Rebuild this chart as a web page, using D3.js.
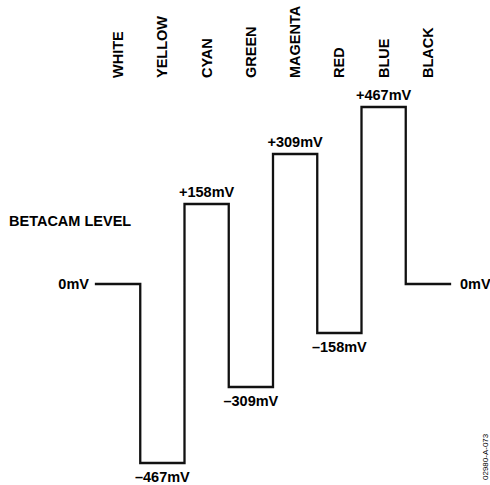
<!DOCTYPE html>
<html>
<head>
<meta charset="utf-8">
<script src="https://cdn.jsdelivr.net/npm/d3@7"></script>
<style>
  body { margin: 0; background: #fff; }
  text { font-family: "Liberation Sans", Arial, sans-serif; fill: #000; }
</style>
</head>
<body>
<div id="chart"></div>
<script>
// colour bars, left to right, and their Betacam level in mV
const colors = ["WHITE", "YELLOW", "CYAN", "GREEN", "MAGENTA", "RED", "BLUE", "BLACK"];
const levels = [0, -467, 158, -309, 309, -158, 467, 0];
const levelLabels = ["0mV", "\u2013467mV", "+158mV", "\u2013309mV", "+309mV", "\u2013158mV", "+467mV", "0mV"];

const width = 490;
const height = 485;
const fs = "14.5px";

const svg = d3.select("#chart")
    .append("svg")
    .attr("width", width)
    .attr("height", height);

const x = d3.scaleBand()
    .domain(colors)
    .range([96, 450])
    .padding(0);

// schematic (not proportional) vertical axis, as in the drawing
const levelStops = [-467, -309, -158, 0, 158, 309, 467];
const y = d3.scaleLinear()
    .domain(levelStops)
    .range([463, 387, 333, 284, 204, 154, 107]);

const data = colors.map((c, i) => ({ color: c, level: levels[i], label: levelLabels[i] }));

// colour names, rotated
svg.selectAll(".name")
    .data(data)
    .join("text")
    .attr("transform", d => `translate(${x(d.color) + x.bandwidth() / 2 + 5},78) rotate(-90)`)
    .attr("text-anchor", "start")
    .attr("font-size", fs)
    .attr("font-weight", "bold")
    .text(d => d.color);

// waveform as a step line
const pts = [];
data.forEach(d => {
    pts.push([x(d.color), y(d.level)]);
    pts.push([x(d.color) + x.bandwidth(), y(d.level)]);
});

svg.append("path")
    .attr("d", d3.line()(pts))
    .attr("fill", "none")
    .attr("stroke", "#111")
    .attr("stroke-width", 2.3)
    .attr("stroke-linejoin", "miter")
    .attr("stroke-linecap", "square");

// level labels on the bars
svg.selectAll(".lvl")
    .data(data.slice(1, -1))
    .join("text")
    .attr("x", d => x(d.color) + x.bandwidth() / 2)
    .attr("y", d => d.level > 0 ? y(d.level) - 7 : y(d.level) + 19)
    .attr("text-anchor", "middle")
    .attr("font-size", fs)
    .attr("font-weight", "bold")
    .text(d => d.label);

// 0mV at both ends
svg.append("text")
    .attr("x", x(colors[0]) - 7)
    .attr("y", y(levels[0]) + 5)
    .attr("text-anchor", "end")
    .attr("font-size", fs)
    .attr("font-weight", "bold")
    .text(levelLabels[0]);

svg.append("text")
    .attr("x", x(colors[colors.length - 1]) + x.bandwidth() + 10)
    .attr("y", y(levels[levels.length - 1]) + 5)
    .attr("text-anchor", "start")
    .attr("font-size", fs)
    .attr("font-weight", "bold")
    .text(levelLabels[levelLabels.length - 1]);

svg.append("text")
    .attr("x", 9)
    .attr("y", 226)
    .attr("font-size", fs)
    .attr("font-weight", "bold")
    .text("BETACAM LEVEL");

// figure code
svg.append("text")
    .attr("transform", "translate(488,480) rotate(-90)")
    .attr("font-size", "8px")
    .text("02980-A-073");
</script>
</body>
</html>
